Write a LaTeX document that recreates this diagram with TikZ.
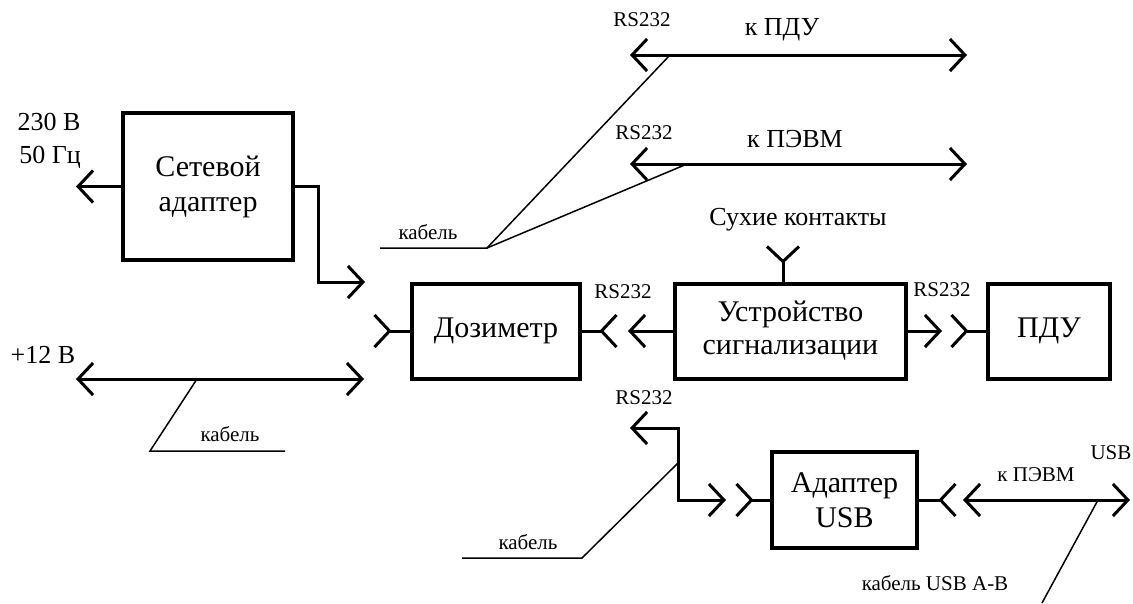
\documentclass[tikz,border=0pt]{standalone}
\usepackage{fontspec}
\setmainfont{Liberation Serif}
\usetikzlibrary{arrows.meta}

\tikzset{
    block/.style={draw, line width=4pt, inner sep=0pt, align=center,
        font=\fontsize{30}{35}\selectfont},
    wire/.style={line width=3pt},
    cable/.style={line width=1.5pt},
    plug/.style={-{Straight Barb[length=15pt, width=32pt]}},
    plugs/.style={{Straight Barb[length=15pt, width=32pt]}-{Straight Barb[length=15pt, width=32pt]}},
    sock/.style={-{Straight Barb[reversed, length=15pt, width=32pt]}},
    lbl/.style={font=\fontsize{26}{30}\selectfont, inner sep=0pt},
    small/.style={font=\fontsize{21}{24}\selectfont, inner sep=0pt}
}

\begin{document}
\begin{tikzpicture}[x=1pt, y=-1pt]
    \useasboundingbox (0,0) rectangle (1133,603);

    % Blocks
    \node[block, minimum width=170, minimum height=147] (adapter) at (208,186.5) {Сетевой\\адаптер};
    \node[block, minimum width=168, minimum height=95] (dozim) at (496,331) {Дозиметр};
    \node[block, minimum width=231, minimum height=95, font=\fontsize{30}{33}\selectfont] (signal) at (790.5,331) {Устройство\\сигнализации};
    \node[block, minimum width=122, minimum height=95] (pdu) at (1049,331) {ПДУ};
    \node[block, minimum width=145, minimum height=96] (usb) at (844.5,500) {Адаптер\\USB};

    % Power supply
    \coordinate (mains) at (76,0);
    \draw[wire, plug] (adapter.west) -- (adapter.west -| mains);
    \coordinate (pwr) at (365,282);
    \draw[wire, plug] (adapter.east) -- ++(23,0) |- (pwr);
    \node[lbl] (v230) at (49,122) {230 В};
    \node[lbl] (hz) at (50,157) {50 Гц};

    % +12 V line
    \coordinate (v12l) at (76,379);
    \coordinate (v12r) at (364,379);
    \draw[wire, plugs] (v12l) -- (v12r);
    \node[lbl] (v12) at (43,355) {+12 В};
    \coordinate (cb1) at (197,379);
    \draw[cable] (cb1) -- (150,451) -- (285,451);
    \node[small] (kab1) at (230,434) {кабель};

    % Dosimeter sockets
    \coordinate (dzl) at (373,0);
    \draw[wire, sock] (dozim.west) -- (dozim.west -| dzl);
    \coordinate (dzr) at (618,0);
    \draw[wire, sock] (dozim.east) -- (dozim.east -| dzr);
    \coordinate (sgl) at (628,0);
    \draw[wire, plug] (signal.west) -- (signal.west -| sgl);
    \node[small] (rs1) at (623,292) {RS232};

    % Dry contacts
    \coordinate (dry) at (783,245);
    \draw[wire, sock] (signal.north -| dry) -- (dry);
    \node[lbl] (drylbl) at (798,220) {Сухие контакты};

    % To remote panel
    \coordinate (sgr) at (942,0);
    \draw[wire, plug] (signal.east) -- (signal.east -| sgr);
    \coordinate (pdl) at (950,0);
    \draw[wire, sock] (pdu.west) -- (pdu.west -| pdl);
    \node[small] (rs2) at (942,290) {RS232};

    % Top cable lines
    \coordinate (ka1) at (630,55);
    \coordinate (kb1) at (967,55);
    \coordinate (ka2) at (630,164);
    \coordinate (kb2) at (967,164);
    \draw[wire, plugs] (ka1) -- (kb1);
    \draw[wire, plugs] (ka2) -- (kb2);
    \node[small] (rs3) at (642,20) {RS232};
    \node[small] (rs4) at (644,133) {RS232};
    \node[lbl] (kpdu) at (782,30) {к ПДУ};
    \node[lbl] (kpc) at (795,139) {к ПЭВМ};
    \coordinate (cb2) at (487,248);
    \draw[cable] (380,248) -- (cb2) -- (670,55);
    \draw[cable] (cb2) -- (687,164);
    \node[small] (kab2) at (428,232) {кабель};

    % USB adapter
    \coordinate (rsl) at (630,428);
    \coordinate (usbin) at (726,0);
    \draw[wire, plugs] (rsl) -- ++(48,0) |- (usb.west -| usbin);
    \coordinate (ubl) at (735,0);
    \draw[wire, sock] (usb.west) -- (usb.west -| ubl);
    \node[small] (rs5) at (644,398) {RS232};
    \draw[cable] (678,463) -- (582,558) -- (462,558);
    \node[small] (kab3) at (528,542) {кабель};

    \coordinate (ubr) at (957,0);
    \draw[wire, sock] (usb.east) -- (usb.east -| ubr);
    \coordinate (pcl) at (963,500);
    \coordinate (pcr) at (1130,500);
    \draw[wire, plugs] (pcl) -- (pcr);
    \node[small] (kpc2) at (1036,475) {к ПЭВМ};
    \node[small] (usblbl) at (1111,453) {USB};
    \draw[cable] (1098,500) -- (1042,603);
    \node[small] (kab4) at (935,583) {кабель USB A-B};
\end{tikzpicture}
\end{document}
